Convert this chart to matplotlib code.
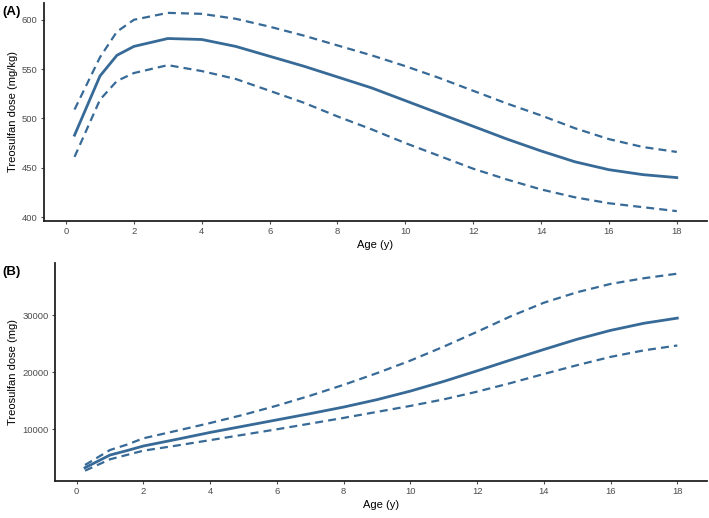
import numpy as np
import matplotlib
matplotlib.use("Agg")
import matplotlib.pyplot as plt

plt.rcParams['font.family'] = ['Liberation Sans', 'DejaVu Sans']

# age grid (years)
age = [0.25, 1, 1.5, 2, 3, 4, 5, 6, 7, 8, 9, 10, 11, 12, 13, 14, 15, 16, 17, 18]

# panel A: dose per kg (mg/kg)
a_median = [483, 543, 564, 573, 581, 580, 573, 563, 553, 542, 531, 518, 505, 492,
            479, 467, 456, 448, 443, 440]
a_upper = [509, 562, 588, 600, 607, 606, 601, 593, 584, 574, 564, 553, 541, 528,
           515, 503, 490, 479, 471, 466]
a_lower = [461, 519, 538, 546, 554, 548, 540, 528, 516, 502, 489, 475, 462, 449,
           438, 428, 420, 414, 410, 406]

# panel B: absolute dose (mg)
b_median = [3260, 5490, 6250, 7070, 8240, 9450, 10550, 11650, 12750, 13900, 15200,
            16700, 18400, 20250, 22150, 24000, 25800, 27350, 28600, 29500]
b_upper = [3740, 6370, 7300, 8420, 9750, 11100, 12550, 14150, 15900, 17800, 19850,
           22050, 24500, 27100, 29800, 32200, 34050, 35500, 36500, 37300]
b_lower = [2740, 4740, 5500, 6250, 7150, 8100, 9050, 10000, 11000, 12000, 13050,
           14100, 15250, 16600, 18100, 19700, 21250, 22700, 23850, 24700]

color = '#386a97'
dash = (0, (3.6, 2.3))
tick_gray = '#4d4d4d'

fig = plt.figure(figsize=(7.09, 5.18), dpi=100)
ax_a = fig.add_axes([44 / 709, 1 - 221 / 518, 663 / 709, 218 / 518])
ax_b = fig.add_axes([55 / 709, 1 - 481 / 518, 652 / 709, 218 / 518])


def style(ax):
    for s in ['top', 'right']:
        ax.spines[s].set_visible(False)
    for s in ['left', 'bottom']:
        ax.spines[s].set_linewidth(1.3)
        ax.spines[s].set_color('#222222')
    ax.tick_params(axis='both', colors=tick_gray, labelsize=6.8, length=2.5,
                   width=0.8, pad=2)
    ax.set_xticks(range(0, 19, 2))
    ax.set_xlim(-0.65, 18.89)
    ax.set_xlabel('Age (y)', fontsize=8, labelpad=3)


ax_a.plot(age, a_median, color=color, lw=2.0)
ax_a.plot(age, a_upper, color=color, lw=1.6, linestyle=dash)
ax_a.plot(age, a_lower, color=color, lw=1.6, linestyle=dash)
style(ax_a)
ax_a.set_ylim(396, 617)
ax_a.set_yticks([400, 450, 500, 550, 600])
ax_a.set_ylabel('Treosulfan dose (mg/kg)', fontsize=8, labelpad=3)

ax_b.plot(age, b_median, color=color, lw=2.0)
ax_b.plot(age, b_upper, color=color, lw=1.6, linestyle=dash)
ax_b.plot(age, b_lower, color=color, lw=1.6, linestyle=dash)
style(ax_b)
ax_b.set_ylim(930, 39170)
ax_b.set_yticks([10000, 20000, 30000])
ax_b.set_ylabel('Treosulfan dose (mg)', fontsize=8, labelpad=3)

fig.text(2 / 709, 1 - 12 / 518, '(A)', fontsize=9.5, fontweight='bold', va='center')
fig.text(2 / 709, 1 - 272 / 518, '(B)', fontsize=9.5, fontweight='bold', va='center')

fig.savefig('out.png', dpi=100)
